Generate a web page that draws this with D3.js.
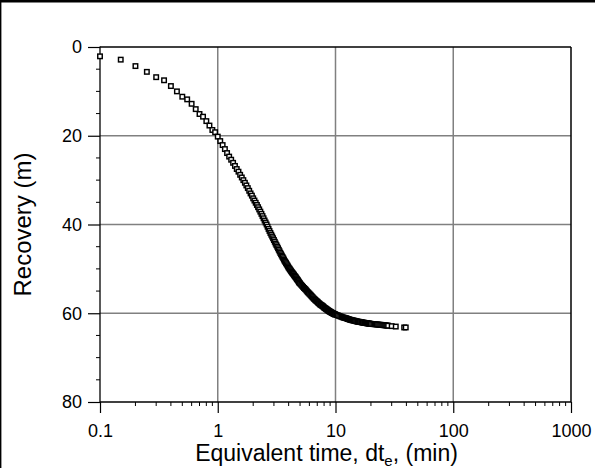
<!DOCTYPE html>
<html>
<head>
<meta charset="utf-8">
<script src="https://cdn.jsdelivr.net/npm/d3@7"></script>
<style>
  body { margin: 0; background: #fff; }
  svg { display: block; font-family: "Liberation Sans", Arial, sans-serif; }
</style>
</head>
<body>
<div id="chart"></div>
<script>
// Equivalent time (min) and recovery (m)
var timeMin = [
  0.1, 0.15, 0.2, 0.25, 0.3, 0.35, 0.4, 0.45, 0.5, 0.55, 0.6, 0.65, 0.7, 0.75, 0.8, 0.85, 0.9, 0.95, 1.0,
  1.05, 1.1, 1.15, 1.2, 1.25, 1.3, 1.35, 1.4, 1.45, 1.5, 1.55, 1.6, 1.65, 1.7, 1.75, 1.8, 1.85, 1.9, 1.95, 2.0,
  2.05, 2.1, 2.15, 2.2, 2.25, 2.3, 2.35, 2.4, 2.45, 2.5, 2.55, 2.6, 2.65, 2.7, 2.75, 2.8, 2.85, 2.9, 2.95, 3.0,
  3.05, 3.1, 3.15, 3.2, 3.25, 3.3, 3.35, 3.4, 3.45, 3.5, 3.55, 3.6, 3.65, 3.7, 3.75, 3.8, 3.85, 3.9, 3.95, 4.0,
  4.05, 4.1, 4.15, 4.2, 4.25, 4.3, 4.35, 4.4, 4.45, 4.5, 4.55, 4.6, 4.65, 4.7, 4.75, 4.8, 4.85, 4.9, 4.95, 5.0,
  5.1, 5.2, 5.3, 5.4, 5.5, 5.6, 5.7, 5.8, 5.9, 6.0,
  6.1, 6.2, 6.3, 6.4, 6.5, 6.6, 6.7, 6.8, 6.9, 7.0,
  7.1, 7.2, 7.3, 7.4, 7.5, 7.6, 7.7, 7.8, 7.9, 8.0,
  8.1, 8.2, 8.3, 8.4, 8.5, 8.6, 8.7, 8.8, 8.9, 9.0,
  9.1, 9.2, 9.3, 9.4, 9.5, 9.6, 9.7, 9.8, 9.9, 10,
  10.25, 10.5, 10.75, 11, 11.25, 11.5, 11.75, 12, 12.25, 12.5, 12.75, 13, 13.25, 13.5, 13.75, 14, 14.25, 14.5, 14.75, 15,
  15.25, 15.5, 15.75, 16, 16.25, 16.5, 16.75, 17, 17.25, 17.5, 17.75, 18, 18.25, 18.5, 18.75, 19, 19.25, 19.5, 19.75, 20,
  20.5, 21, 21.5, 22, 22.5, 23, 23.5, 24, 24.5, 25, 25.5, 26, 26.5, 27, 27.5, 28,
  30, 32.5, 38.3, 39.5
];
var recovery = [
  2.1, 2.85, 4.3, 5.6, 6.8, 7.5, 8.8, 10.0, 11.2, 11.8, 12.8, 14.0, 15.1, 15.7, 16.7, 17.7, 18.7, 19.2, 20.2,
  21.2, 22.1, 23.0, 23.9, 24.7, 25.4, 26.1, 26.8, 27.5, 28.1, 28.8, 29.4, 30.0, 30.6, 31.2, 31.8, 32.4, 33.0, 33.5, 34.1,
  34.6, 35.1, 35.6, 36.1, 36.6, 37.1, 37.6, 38.1, 38.6, 39.1, 39.55, 40.0, 40.5, 41.0, 41.45, 41.9, 42.3, 42.7, 43.1, 43.5,
  43.9, 44.3, 44.65, 45.0, 45.35, 45.7, 46.05, 46.4, 46.7, 47.0, 47.3, 47.6, 47.9, 48.2, 48.45, 48.7, 48.95, 49.2, 49.45, 49.7,
  49.9, 50.1, 50.3, 50.5, 50.7, 50.9, 51.05, 51.2, 51.4, 51.6, 51.75, 51.9, 52.1, 52.3, 52.45, 52.6, 52.8, 53.0, 53.15, 53.3,
  53.55, 53.8, 54.05, 54.3, 54.5, 54.7, 54.95, 55.2, 55.4, 55.6,
  55.8, 56.0, 56.2, 56.4, 56.6, 56.8, 56.95, 57.1, 57.25, 57.4,
  57.55, 57.7, 57.85, 58.0, 58.1, 58.2, 58.3, 58.4, 58.55, 58.7,
  58.8, 58.9, 59.0, 59.1, 59.2, 59.3, 59.4, 59.5, 59.6, 59.65,
  59.7, 59.8, 59.9, 59.95, 60.0, 60.1, 60.15, 60.2, 60.25, 60.3,
  60.4, 60.5, 60.6, 60.7, 60.8, 60.9, 61.0, 61.05, 61.1, 61.2, 61.3, 61.35, 61.45, 61.5, 61.55, 61.6, 61.65, 61.7, 61.75, 61.8,
  61.85, 61.9, 61.92, 61.95, 61.98, 62.0, 62.05, 62.1, 62.12, 62.15, 62.18, 62.2, 62.22, 62.25, 62.28, 62.3, 62.32, 62.35, 62.38, 62.4,
  62.42, 62.45, 62.48, 62.5, 62.52, 62.55, 62.58, 62.6, 62.62, 62.65, 62.68, 62.7, 62.72, 62.75, 62.78, 62.8,
  62.9, 63.0, 63.2, 63.2
];

var xTickValues = [0.1, 1, 10, 100, 1000];
var yTickValues = [0, 20, 40, 60, 80];

var svgWidth = 595;
var svgHeight = 468;

// plot box
var margin = { top: 47, right: 24, bottom: 66, left: 100 };
var plotRight = svgWidth - margin.right;
var plotBottom = svgHeight - margin.bottom;

var svg = d3.select("#chart").append("svg")
  .attr("width", svgWidth).attr("height", svgHeight);

// outer frame of the picture (top and left edges)
svg.append("line").attr("x1", 0).attr("x2", svgWidth).attr("y1", 1.2).attr("y2", 1.2)
  .attr("stroke", "#000").attr("stroke-width", 2.6);
svg.append("line").attr("x1", 0.7).attr("x2", 0.7).attr("y1", 0).attr("y2", svgHeight)
  .attr("stroke", "#000").attr("stroke-width", 1.4);

var xScale = d3.scaleLog()
  .domain([0.1, 1000])
  .range([margin.left, plotRight]);
var yScale = d3.scaleLinear()
  .domain([0, 80])
  .range([margin.top, plotBottom]); // recovery grows downward

// grid lines
svg.append("g").selectAll("line").data(xTickValues.slice(1, -1)).enter().append("line")
  .attr("x1", d => xScale(d)).attr("x2", d => xScale(d))
  .attr("y1", margin.top).attr("y2", plotBottom)
  .attr("stroke", "#808080").attr("stroke-width", 1.5);
svg.append("g").selectAll("line").data(yTickValues.slice(1, -1)).enter().append("line")
  .attr("x1", margin.left).attr("x2", plotRight)
  .attr("y1", d => yScale(d)).attr("y2", d => yScale(d))
  .attr("stroke", "#808080").attr("stroke-width", 1.5);

// top and right frame
svg.append("line").attr("x1", margin.left).attr("x2", plotRight)
  .attr("y1", margin.top).attr("y2", margin.top)
  .attr("stroke", "#000").attr("stroke-width", 1.5);
svg.append("line").attr("x1", plotRight).attr("x2", plotRight)
  .attr("y1", margin.top).attr("y2", plotBottom)
  .attr("stroke", "#000").attr("stroke-width", 1.5);

// minor tick values
var xMinor = [];
[0.1, 1, 10, 100].forEach(function (dec) {
  for (var k = 2; k <= 9; k++) xMinor.push(dec * k);
});
var yMinor = d3.range(5, 80, 5).filter(d => d % 20 !== 0);

// x axis
var xAxis = d3.axisBottom(xScale)
  .tickValues(xTickValues)
  .tickSize(11).tickPadding(11)
  .tickFormat(d3.format("~g"));
var xAxisG = svg.append("g").attr("transform", `translate(0, ${plotBottom})`).call(xAxis);
xAxisG.selectAll("g.minor").data(xMinor).enter().append("line")
  .attr("x1", d => xScale(d)).attr("x2", d => xScale(d))
  .attr("y1", 0).attr("y2", 4)
  .attr("stroke", "#000");

// y axis
var yAxis = d3.axisLeft(yScale)
  .tickValues(yTickValues)
  .tickSize(12).tickPadding(6);
var yAxisG = svg.append("g").attr("transform", `translate(${margin.left}, 0)`).call(yAxis);
yAxisG.selectAll("g.minor").data(yMinor).enter().append("line")
  .attr("x1", -4).attr("x2", 0)
  .attr("y1", d => yScale(d)).attr("y2", d => yScale(d))
  .attr("stroke", "#000");

[xAxisG, yAxisG].forEach(function (g) {
  g.select(".domain").attr("stroke", "#000").attr("stroke-width", 1.3);
  g.selectAll(".tick line").attr("stroke", "#000").attr("stroke-width", 1.2);
  g.selectAll(".tick text").attr("fill", "#000")
    .attr("font-size", 18).attr("font-family", "Liberation Sans, Arial, sans-serif");
});
yAxisG.select(".domain").attr("d", `M0,${margin.top - 0.5}V${plotBottom}`);
xAxisG.select(".domain").attr("d", `M${margin.left},0H${plotRight}`);

// axis titles
var xTitle = svg.append("text")
  .attr("x", (margin.left + plotRight) / 2 - 9)
  .attr("y", 461)
  .attr("text-anchor", "middle")
  .attr("font-size", 23)
  .attr("fill", "#000");
xTitle.append("tspan").text("Equivalent time, dt");
xTitle.append("tspan").attr("font-size", 15).attr("dy", 5).text("e");
xTitle.append("tspan").attr("dy", -5).text(", (min)");

svg.append("text")
  .attr("transform", `translate(31, ${(margin.top + plotBottom) / 2}) rotate(-90)`)
  .attr("text-anchor", "middle")
  .attr("font-size", 24)
  .attr("fill", "#000")
  .text("Recovery (m)");

// markers
var points = timeMin.map((t, i) => ({ t: t, r: recovery[i] }));
var markerSize = 4.5;
svg.append("g").selectAll("rect").data(points).enter().append("rect")
  .attr("x", d => xScale(d.t) - markerSize / 2)
  .attr("y", d => yScale(d.r) - markerSize / 2)
  .attr("width", markerSize).attr("height", markerSize)
  .attr("fill", "#fff")
  .attr("stroke", "#000")
  .attr("stroke-width", 1.45);
</script>
</body>
</html>
